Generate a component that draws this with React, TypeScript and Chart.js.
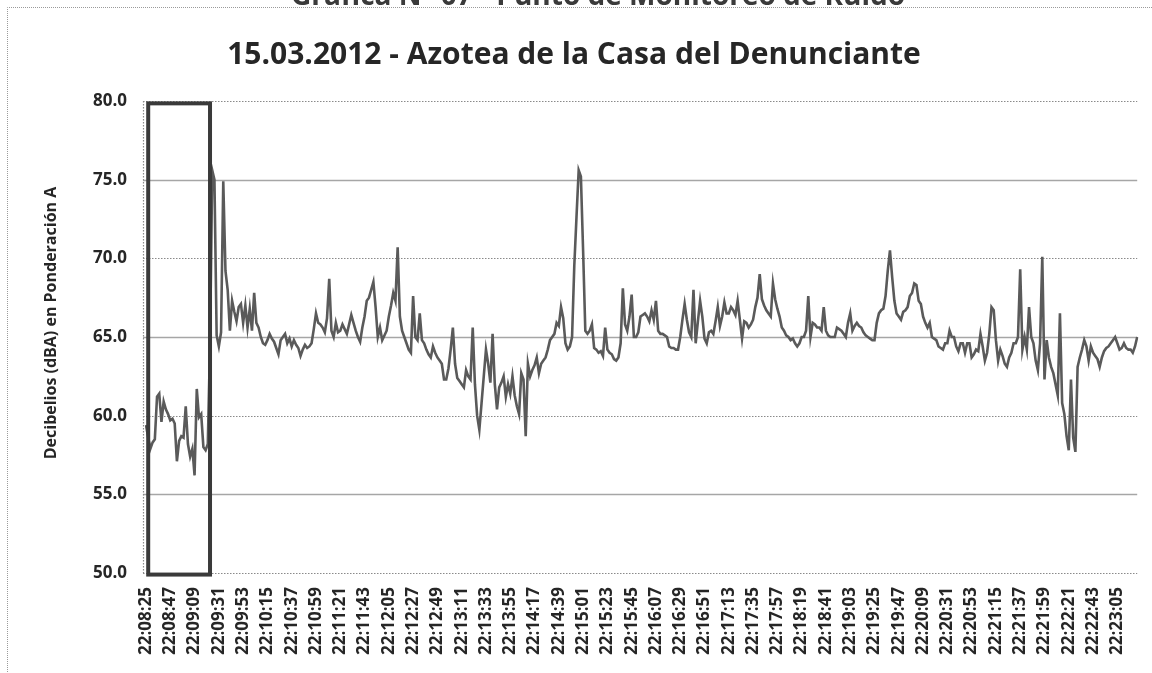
import React, { useEffect, useRef } from "react";
import { Chart, registerables } from "chart.js";

Chart.register(...registerables);

const SUPER_TITLE = "Gráfica N° 07 - Punto de Monitoreo de Ruido";
const TITLE = "15.03.2012 - Azotea de la Casa del Denunciante";
const Y_TITLE = "Decibelios (dBA) en Ponderación A";

const START_SECONDS = 22 * 3600 + 8 * 60 + 25;
const STEP_SECONDS = 2;

const decibels: number[] = [
  59.4, 58.6, 57.9, 58.3, 58.5, 61.2, 61.4, 59.6, 60.9, 60.4,
  60.1, 59.7, 59.8, 59.5, 57.1, 58.4, 58.7, 58.6, 60.6, 58.2,
  57.4, 57.9, 56.2, 61.7, 59.9, 60.1, 58.0, 57.8, 58.2, 64.5,
  75.6, 75.0, 65.1, 64.4, 65.3, 74.9, 69.2, 68.0, 65.4, 67.3,
  66.6, 66.0, 66.9, 67.1, 65.9, 67.0, 65.6, 66.8, 65.4, 67.8,
  65.9, 65.6, 65.0, 64.6, 64.5, 64.8, 65.2, 64.9, 64.7, 64.3,
  63.9, 64.8, 65.0, 65.2, 64.6, 64.9, 64.4, 64.8, 64.5, 64.3,
  63.8, 64.2, 64.5, 64.3, 64.4, 64.6, 65.5, 66.5, 65.9, 65.8,
  65.6, 65.3, 66.2, 68.7, 65.4, 65.0, 65.9, 65.3, 65.4, 65.8,
  65.5, 65.2, 65.8, 66.4, 65.9, 65.4, 65.0, 64.7, 65.6, 66.3,
  67.3, 67.5, 68.0, 68.5, 66.9, 65.0, 65.6, 64.8, 65.1, 65.4,
  66.3, 67.0, 67.8, 67.3, 70.7, 66.3, 65.4, 65.0, 64.6, 64.2,
  64.0, 67.6, 65.0, 64.8, 66.5, 64.8, 64.6, 64.2, 63.9, 63.7,
  64.4, 64.0, 63.7, 63.5, 63.3, 62.3, 62.3, 63.0, 64.2, 65.6,
  63.3, 62.4, 62.2, 62.0, 61.8, 62.9, 62.5, 62.3, 65.6, 62.0,
  60.0, 59.1, 60.8, 62.5, 64.2, 63.3, 62.1, 65.2, 62.0, 60.4,
  61.8, 62.1, 62.5, 61.2, 62.0, 61.4, 62.5, 61.3, 60.6, 60.1,
  62.7, 62.3, 58.7, 63.3, 62.5, 62.9, 63.2, 63.7, 62.7, 63.3,
  63.5, 63.7, 64.2, 64.8, 65.0, 65.2, 65.9, 65.7, 66.9, 66.2,
  64.6, 64.2, 64.4, 65.0, 69.5, 72.6, 75.6, 75.2, 70.5, 65.4,
  65.2, 65.4, 65.8, 64.3, 64.2, 64.0, 64.1, 63.8, 65.6, 64.2,
  64.0, 63.9, 63.6, 63.5, 63.7, 64.6, 68.1, 65.8, 65.4, 66.3,
  67.7, 65.0, 65.0, 65.3, 66.3, 66.4, 66.5, 66.3, 66.0, 66.7,
  66.1, 67.3, 65.4, 65.2, 65.2, 65.1, 65.0, 64.4, 64.3, 64.3,
  64.2, 64.2, 65.0, 66.1, 67.1, 66.1, 65.3, 65.0, 68.0, 64.6,
  66.0, 67.3, 66.3, 64.9, 64.6, 65.3, 65.4, 65.2, 66.0, 66.9,
  65.7, 66.3, 67.2, 66.5, 66.5, 66.9, 66.7, 66.4, 67.3, 66.1,
  64.9, 66.0, 65.9, 65.6, 65.8, 66.1, 66.9, 67.5, 69.0, 67.4,
  67.0, 66.7, 66.5, 66.3, 68.4, 67.4, 66.8, 66.3, 65.6, 65.4,
  65.1, 65.0, 64.8, 64.9, 64.6, 64.4, 64.6, 65.0, 65.0, 65.4,
  67.6, 65.0, 65.9, 65.8, 65.6, 65.6, 65.4, 66.9, 65.4, 65.1,
  65.0, 65.0, 65.0, 65.6, 65.5, 65.4, 65.2, 65.0, 65.9, 66.5,
  65.4, 65.7, 65.9, 65.7, 65.6, 65.3, 65.1, 65.0, 64.9, 64.8,
  64.8, 65.9, 66.5, 66.7, 66.8, 67.6, 69.2, 70.5, 68.8, 67.3,
  66.5, 66.3, 66.1, 66.6, 66.7, 66.9, 67.6, 67.8, 68.4, 68.3,
  67.3, 67.1, 66.3, 65.9, 65.6, 65.9, 65.0, 64.9, 64.8, 64.4,
  64.3, 64.2, 64.6, 64.6, 65.4, 65.0, 65.0, 64.4, 64.1, 64.6,
  64.6, 64.0, 64.6, 64.6, 63.7, 63.9, 64.2, 64.1, 65.2, 64.4,
  63.5, 64.0, 65.2, 66.9, 66.7, 64.8, 63.5, 64.2, 63.8, 63.3,
  63.1, 63.7, 64.0, 64.6, 64.6, 65.0, 69.3, 64.2, 65.0, 64.2,
  66.9, 65.0, 64.6, 63.5, 62.9, 64.6, 70.1, 62.3, 64.8, 63.7,
  63.1, 62.7, 62.0, 61.3, 66.5, 60.8, 60.1, 58.7, 57.8, 62.3,
  58.6, 57.7, 63.1, 63.7, 64.2, 64.8, 64.4, 63.5, 64.4, 64.0,
  63.8, 63.6, 63.1, 63.7, 64.1, 64.3, 64.4, 64.6, 64.8, 65.0,
  64.6, 64.2, 64.3, 64.6, 64.3, 64.2, 64.2, 64.0, 64.4, 65.0,
];

const tickLabels: string[] = [
  "22:08:25", "22:08:47", "22:09:09", "22:09:31", "22:09:53", "22:10:15",
  "22:10:37", "22:10:59", "22:11:21", "22:11:43", "22:12:05", "22:12:27",
  "22:12:49", "22:13:11", "22:13:33", "22:13:55", "22:14:17", "22:14:39",
  "22:15:01", "22:15:23", "22:15:45", "22:16:07", "22:16:29", "22:16:51",
  "22:17:13", "22:17:35", "22:17:57", "22:18:19", "22:18:41", "22:19:03",
  "22:19:25", "22:19:47", "22:20:09", "22:20:31", "22:20:53", "22:21:15",
  "22:21:37", "22:21:59", "22:22:21", "22:22:43", "22:23:05",
];

const yTicks: number[] = [50, 55, 60, 65, 70, 75, 80];

// highlighted window (category index range and value range)
const boxStartIndex = 1;
const boxEndIndex = 29;
const boxTop = 79.85;
const boxBottom = 49.9;

const pad = (n: number) => String(n).padStart(2, "0");
const categories: string[] = decibels.map((_, i) => {
  const s = START_SECONDS + i * STEP_SECONDS;
  return `${pad(Math.floor(s / 3600))}:${pad(Math.floor((s % 3600) / 60))}:${pad(s % 60)}`;
});
const tickSet = new Set(tickLabels);

const FONT = "'Open Sans', 'DejaVu Sans', sans-serif";
const GRID_LEFT_EXTRA = 3;

const decorPlugin = {
  id: "decor",
  beforeDraw(chart: any) {
    const { ctx, width, height } = chart;
    ctx.save();
    ctx.fillStyle = "#ffffff";
    ctx.fillRect(0, 0, width, height);
    // outer dotted frame
    ctx.strokeStyle = "#9a9a9a";
    ctx.lineWidth = 1;
    ctx.setLineDash([1, 1]);
    ctx.beginPath();
    ctx.moveTo(7.5, height + 5);
    ctx.lineTo(7.5, 7.5);
    ctx.lineTo(width + 5, 7.5);
    ctx.stroke();
    ctx.setLineDash([]);
    // cut-off super title
    ctx.fillStyle = "#3a3a3a";
    ctx.font = `bold 28px ${FONT}`;
    ctx.textAlign = "center";
    ctx.textBaseline = "alphabetic";
    ctx.fillText(SUPER_TITLE, 598, 5);
    // title
    ctx.fillStyle = "#262626";
    ctx.font = `bold 30px ${FONT}`;
    ctx.fillText(TITLE, 574, 64);
    // y axis title
    ctx.save();
    ctx.translate(51, 323);
    ctx.rotate(-Math.PI / 2);
    ctx.font = `bold 16px ${FONT}`;
    ctx.textBaseline = "middle";
    ctx.fillStyle = "#262626";
    ctx.fillText(Y_TITLE, 0, 0);
    ctx.restore();
    ctx.restore();
  },
  beforeDatasetsDraw(chart: any) {
    const { ctx, chartArea } = chart;
    const y = chart.scales.y;
    const left = chartArea.left - GRID_LEFT_EXTRA;
    ctx.save();
    yTicks.forEach((v) => {
      const py = Math.round(y.getPixelForValue(v)) + 0.5;
      ctx.beginPath();
      if (v % 10 === 0) {
        ctx.setLineDash([1.5, 1.5]);
        ctx.strokeStyle = "#8a8a8a";
        ctx.lineWidth = 1.2;
      } else {
        ctx.setLineDash([]);
        ctx.strokeStyle = "#a6a6a6";
        ctx.lineWidth = 1.6;
      }
      ctx.moveTo(left, py);
      ctx.lineTo(chartArea.right, py);
      ctx.stroke();
    });
    // dotted left edge of the plot area
    ctx.setLineDash([1.5, 1.5]);
    ctx.strokeStyle = "#8a8a8a";
    ctx.lineWidth = 1.2;
    ctx.beginPath();
    ctx.moveTo(left + 0.5, chartArea.top);
    ctx.lineTo(left + 0.5, chartArea.bottom);
    ctx.stroke();
    ctx.restore();
  },
  afterDatasetsDraw(chart: any) {
    const { ctx } = chart;
    const x = chart.scales.x;
    const y = chart.scales.y;
    const x1 = x.getPixelForValue(boxStartIndex);
    const x2 = x.getPixelForValue(boxEndIndex);
    const y1 = y.getPixelForValue(boxTop);
    const y2 = y.getPixelForValue(boxBottom);
    ctx.save();
    ctx.strokeStyle = "#3a3a3a";
    ctx.lineWidth = 4;
    ctx.strokeRect(x1, y1, x2 - x1, y2 - y1);
    ctx.restore();
  },
};

export default function App() {
  const ref = useRef<HTMLCanvasElement | null>(null);

  useEffect(() => {
    if (!ref.current) return;
    const chart = new Chart(ref.current, {
      type: "line",
      data: {
        labels: categories,
        datasets: [
          {
            data: decibels,
            borderColor: "#5a5a5a",
            borderWidth: 2.6,
            pointRadius: 0,
            tension: 0,
            fill: false,
          },
        ],
      },
      options: {
        animation: false,
        responsive: true,
        maintainAspectRatio: false,
        layout: { padding: { top: 101, right: 13, left: 0, bottom: 0 } },
        plugins: {
          legend: { display: false },
          tooltip: { enabled: false },
          title: { display: false },
        },
        scales: {
          x: {
            type: "category",
            offset: false,
            grid: { display: false, drawTicks: false },
            border: { display: false },
            afterFit: (s: any) => {
              s.height = 100;
            },
            ticks: {
              autoSkip: false,
              maxRotation: 90,
              minRotation: 90,
              padding: 14,
              color: "#262626",
              font: { family: FONT, size: 17, weight: "bold" },
              callback: (_v: any, i: number) =>
                tickSet.has(categories[i]) ? categories[i] : null,
            },
          },
          y: {
            min: 50,
            max: 80,
            grid: { display: false, drawTicks: false },
            border: { display: false },
            afterFit: (s: any) => {
              s.width = 146;
            },
            afterBuildTicks: (s: any) => {
              s.ticks = yTicks.map((v) => ({ value: v }));
            },
            ticks: {
              padding: 19,
              color: "#262626",
              font: { family: FONT, size: 17, weight: "bold" },
              callback: (v: any) => Number(v).toFixed(1),
            },
          },
        },
      },
      plugins: [decorPlugin],
    });
    return () => chart.destroy();
  }, []);

  return (
    <div style={{ position: "fixed", left: 0, top: 0, width: 1152, height: 673, background: "#fff" }}>
      <canvas ref={ref} />
    </div>
  );
}
